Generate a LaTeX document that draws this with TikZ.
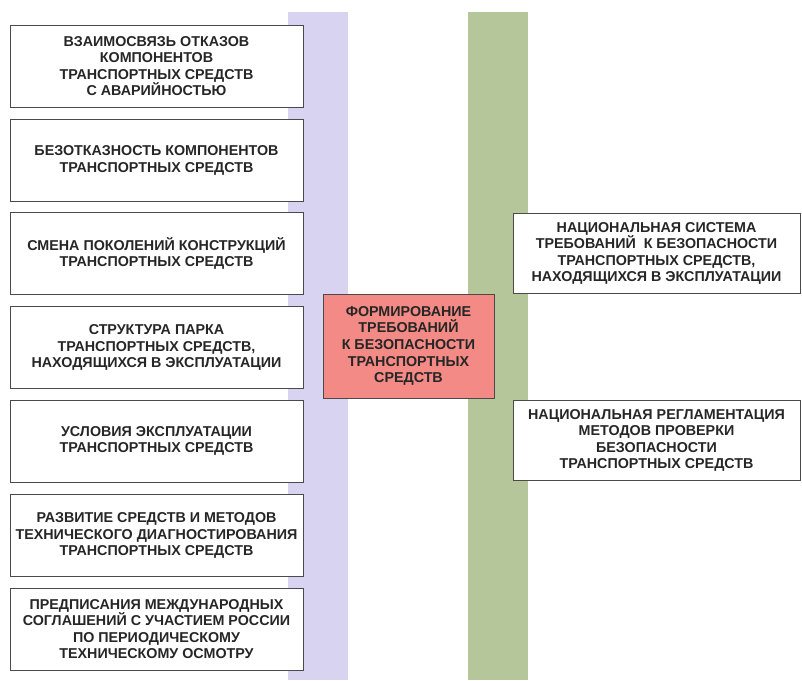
\documentclass[tikz,border=0pt]{standalone}
\usepackage{fontspec}
\setmainfont{Liberation Sans}
\definecolor{bandL}{HTML}{D7D3F1}
\definecolor{bandR}{HTML}{B6C69B}
\definecolor{hub}{HTML}{F38A85}
\definecolor{edge}{HTML}{4A4A4A}
\definecolor{ink}{HTML}{262626}
\tikzset{
  box/.style={draw=edge, line width=1pt, fill=white, align=center, inner sep=0pt,
    text=ink, font=\fontsize{14.3}{16.6}\selectfont\bfseries},
  lbox/.style={box, minimum width=293pt, minimum height=82pt},
  rbox/.style={box, minimum width=287pt, minimum height=80pt},
  hubbox/.style={box, fill=hub, minimum width=171pt, minimum height=104pt}
}
\begin{document}
\begin{tikzpicture}[x=1pt,y=-1pt]
\useasboundingbox (0,0) rectangle (802,680);
\fill[white] (0,0) rectangle (802,680);
\fill[bandL] (288,12) rectangle (348,680);
\fill[bandR] (468,12) rectangle (528,680);
\node[lbox] (l1) at (156.5,66) {ВЗАИМОСВЯЗЬ ОТКАЗОВ\\КОМПОНЕНТОВ\\ТРАНСПОРТНЫХ СРЕДСТВ\\С АВАРИЙНОСТЬЮ};
\node[lbox] (l2) at (156.5,160.5) {БЕЗОТКАЗНОСТЬ КОМПОНЕНТОВ\\ТРАНСПОРТНЫХ СРЕДСТВ};
\node[lbox] (l3) at (156.5,253.5) {СМЕНА ПОКОЛЕНИЙ КОНСТРУКЦИЙ\\ТРАНСПОРТНЫХ СРЕДСТВ};
\node[lbox] (l4) at (156.5,347.5) {СТРУКТУРА ПАРКА\\ТРАНСПОРТНЫХ СРЕДСТВ,\\НАХОДЯЩИХСЯ В ЭКСПЛУАТАЦИИ};
\node[lbox] (l5) at (156.5,441) {УСЛОВИЯ ЭКСПЛУАТАЦИИ\\ТРАНСПОРТНЫХ СРЕДСТВ};
\node[lbox] (l6) at (156.5,535.5) {РАЗВИТИЕ СРЕДСТВ И МЕТОДОВ\\ТЕХНИЧЕСКОГО ДИАГНОСТИРОВАНИЯ\\ТРАНСПОРТНЫХ СРЕДСТВ};
\node[lbox] (l7) at (156.5,629) {ПРЕДПИСАНИЯ МЕЖДУНАРОДНЫХ\\СОГЛАШЕНИЙ С УЧАСТИЕМ РОССИИ\\ПО ПЕРИОДИЧЕСКОМУ\\ТЕХНИЧЕСКОМУ ОСМОТРУ};
\node[hubbox] (hub) at (408.5,346) {ФОРМИРОВАНИЕ\\ТРЕБОВАНИЙ\\К БЕЗОПАСНОСТИ\\ТРАНСПОРТНЫХ\\СРЕДСТВ};
\node[rbox] (r1) at (656.5,253.5) {НАЦИОНАЛЬНАЯ СИСТЕМА\\ТРЕБОВАНИЙ \ К БЕЗОПАСНОСТИ\\ТРАНСПОРТНЫХ СРЕДСТВ,\\НАХОДЯЩИХСЯ В ЭКСПЛУАТАЦИИ};
\node[rbox] (r2) at (656.5,440.5) {НАЦИОНАЛЬНАЯ РЕГЛАМЕНТАЦИЯ\\МЕТОДОВ ПРОВЕРКИ\\БЕЗОПАСНОСТИ\\ТРАНСПОРТНЫХ СРЕДСТВ};
\end{tikzpicture}
\end{document}
